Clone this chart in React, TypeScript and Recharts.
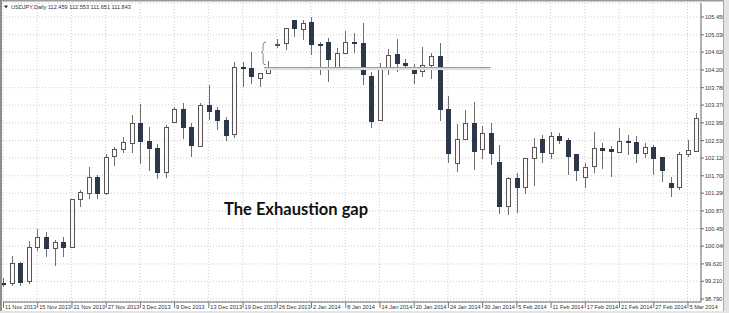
import { ComposedChart, Bar, XAxis, YAxis, CartesianGrid, ReferenceLine } from "recharts"

// USDJPY daily, 11 Nov 2013 - 6 Mar 2014
const dates = [
  "11 Nov 2013", "12 Nov 2013", "13 Nov 2013", "14 Nov 2013", "15 Nov 2013", "18 Nov 2013", "19 Nov 2013", "20 Nov 2013",
  "21 Nov 2013", "22 Nov 2013", "25 Nov 2013", "26 Nov 2013", "27 Nov 2013", "28 Nov 2013", "29 Nov 2013", "2 Dec 2013",
  "3 Dec 2013", "4 Dec 2013", "5 Dec 2013", "6 Dec 2013", "9 Dec 2013", "10 Dec 2013", "11 Dec 2013", "12 Dec 2013",
  "13 Dec 2013", "16 Dec 2013", "17 Dec 2013", "18 Dec 2013", "19 Dec 2013", "20 Dec 2013", "23 Dec 2013", "24 Dec 2013",
  "26 Dec 2013", "27 Dec 2013", "30 Dec 2013", "31 Dec 2013", "2 Jan 2014", "3 Jan 2014", "6 Jan 2014", "7 Jan 2014",
  "8 Jan 2014", "9 Jan 2014", "10 Jan 2014", "13 Jan 2014", "14 Jan 2014", "15 Jan 2014", "16 Jan 2014", "17 Jan 2014",
  "20 Jan 2014", "21 Jan 2014", "22 Jan 2014", "23 Jan 2014", "24 Jan 2014", "27 Jan 2014", "28 Jan 2014", "29 Jan 2014",
  "30 Jan 2014", "31 Jan 2014", "3 Feb 2014", "4 Feb 2014", "5 Feb 2014", "6 Feb 2014", "7 Feb 2014", "10 Feb 2014",
  "11 Feb 2014", "12 Feb 2014", "13 Feb 2014", "14 Feb 2014", "17 Feb 2014", "18 Feb 2014", "19 Feb 2014", "20 Feb 2014",
  "21 Feb 2014", "24 Feb 2014", "25 Feb 2014", "26 Feb 2014", "27 Feb 2014", "28 Feb 2014", "3 Mar 2014", "4 Mar 2014",
  "5 Mar 2014", "6 Mar 2014",
]

const opens = [
  99.18, 99.17, 99.64, 99.22, 100.02, 100.25, 100.0, 100.14, 100.02, 101.15, 101.29, 101.67, 101.29, 102.17, 102.33, 102.48,
  102.95, 102.52, 102.36, 101.79, 102.97, 103.28, 102.85, 102.4, 103.37, 103.25, 103.02, 102.69, 104.27, 104.25, 104.01, 104.13,
  104.81, 104.84, 105.38, 105.17, 105.33, 104.82, 104.86, 104.22, 104.6, 104.86, 104.84, 104.06, 103.02, 104.22, 104.58, 104.36,
  104.25, 104.18, 104.32, 104.53, 103.28, 102.0, 102.57, 102.95, 102.33, 102.71, 102.03, 100.99, 101.65, 101.44, 102.12, 102.57,
  102.24, 102.64, 102.55, 102.21, 101.67, 101.93, 102.36, 102.33, 102.26, 102.52, 102.5, 102.24, 102.38, 102.14, 101.53, 101.44,
  102.21, 102.29,
]
const highs = [
  99.29, 99.81, 99.66, 100.16, 100.44, 100.37, 100.18, 100.25, 101.16, 101.36, 101.91, 101.72, 102.21, 102.38, 102.62, 103.14,
  103.4, 102.85, 102.45, 102.9, 103.33, 103.42, 102.95, 103.42, 103.84, 103.32, 103.09, 104.39, 104.39, 104.62, 104.13, 104.41,
  104.93, 105.19, 105.38, 105.38, 105.45, 104.86, 104.95, 104.72, 105.12, 105.07, 105.31, 104.15, 104.36, 104.69, 104.93, 104.46,
  104.34, 104.74, 104.6, 104.84, 103.58, 102.92, 103.25, 103.44, 102.88, 102.95, 102.43, 101.67, 101.77, 102.12, 102.59, 102.66,
  102.73, 102.71, 102.59, 102.21, 102.0, 102.73, 102.47, 102.4, 102.83, 102.66, 102.64, 102.47, 102.43, 102.14, 101.67, 102.26,
  102.55, 103.18,
]
const lows = [
  99.07, 99.1, 99.1, 99.14, 99.92, 99.78, 99.57, 99.78, 100.01, 100.96, 101.15, 101.15, 101.25, 101.93, 102.24, 102.24,
  101.98, 101.81, 101.62, 101.65, 102.97, 102.57, 102.14, 102.4, 103.02, 102.78, 102.52, 102.59, 103.8, 103.87, 103.8, 104.13,
  104.72, 104.67, 104.98, 104.91, 104.55, 104.08, 103.91, 104.22, 104.6, 104.6, 103.84, 102.83, 103.02, 104.08, 104.15, 104.22,
  103.87, 104.03, 103.99, 103.0, 102.0, 101.79, 102.57, 101.84, 102.1, 101.95, 100.8, 100.77, 100.82, 101.27, 101.46, 102.0,
  102.1, 102.45, 101.72, 101.58, 101.41, 101.77, 101.86, 101.67, 102.26, 102.19, 102.0, 102.12, 101.72, 101.55, 101.2, 101.36,
  102.14, 102.29,
]
const closes = [
  99.16, 99.64, 99.19, 100.02, 100.25, 100.0, 100.14, 100.02, 101.15, 101.32, 101.67, 101.29, 102.14, 102.33, 102.5, 102.95,
  102.52, 102.36, 101.79, 102.85, 103.28, 102.85, 102.43, 103.37, 103.23, 103.02, 102.66, 104.27, 104.25, 104.06, 104.13, 104.27,
  104.82, 105.19, 105.19, 105.31, 104.81, 104.8, 104.46, 104.6, 104.86, 104.84, 104.1, 103.0, 104.22, 104.55, 104.36, 104.32,
  104.13, 104.32, 104.53, 103.28, 102.24, 102.57, 102.95, 102.29, 102.71, 102.24, 100.99, 101.65, 101.44, 102.12, 102.38, 102.26,
  102.64, 102.55, 102.17, 101.84, 101.91, 102.36, 102.31, 102.29, 102.52, 102.5, 102.24, 102.38, 102.12, 101.84, 101.44, 102.21,
  102.31, 103.06,
]

const priceTicks = [
  98.79, 99.21, 99.62, 100.04, 100.45, 100.87, 101.29, 101.7, 102.12, 102.53, 102.95, 103.37, 103.78, 104.2, 104.62, 105.03, 105.45,
]
const dateTicks = [0, 4, 8, 12, 16, 20, 24, 28, 32, 36, 40, 44, 48, 52, 56, 60, 64, 68, 72, 76, 80]

const header = "USDJPY,Daily  112.459 112.553 111.651 111.843"
const annotation = "The Exhaustion gap"
const gapLevel = 104.27
const gapTop = 104.86
const gapFrom = 30.5
const gapTo = 57

const rows = dates.map((date, i) => ({
  i,
  date,
  open: opens[i],
  high: highs[i],
  low: lows[i],
  close: closes[i],
}))

const BEAR = "#2c3849"
const WICK = "#6e6e6e"
const small = { fontFamily: "Liberation Sans, Arial, sans-serif", fontSize: 5.6, fill: "#333" }

function Candle(props: any) {
  const { x, y, width, height, payload } = props
  if (x == null || !payload) return null
  const top = Math.min(y, y + height)
  const bottom = Math.max(y, y + height)
  const { open, high, low, close } = payload
  const span = high - low || 1
  const py = (v: number) => bottom - ((v - low) / span) * (bottom - top)
  const c = Math.round(x + width / 2)
  const up = close >= open
  const bt = Math.round(py(Math.max(open, close))) + 0.5
  let bb = Math.round(py(Math.min(open, close))) + 0.5
  if (bb - bt < 1) bb = bt + 1
  return (
    <g>
      <line x1={c + 0.5} x2={c + 0.5} y1={Math.round(top)} y2={Math.round(bottom)} stroke={WICK} strokeWidth={1} />
      <rect
        x={c - 1.5}
        y={bt}
        width={4}
        height={bb - bt}
        fill={up ? "#fdf7f7" : BEAR}
        stroke={up ? "#565656" : BEAR}
        strokeWidth={1}
      />
    </g>
  )
}

function DateTick(props: any) {
  const { x, y, payload } = props
  return (
    <g>
      <line x1={x + 0.5} x2={x + 0.5} y1={y} y2={y + 6} stroke="#777" />
      <text x={x + 2} y={y + 6.5} {...small}>
        {dates[payload.value]}
      </text>
    </g>
  )
}

function GapLine(props: any) {
  const { x1, x2, y1 } = props
  const yy = Math.round(y1) + 0.5
  return (
    <g>
      <line x1={x1} x2={x2} y1={yy + 1.5} y2={yy + 1.5} stroke="#dedede" strokeWidth={2} />
      <line x1={x1} x2={x2} y1={yy} y2={yy} stroke="#9c9c9c" strokeWidth={1.2} />
    </g>
  )
}

function Brace(props: any) {
  const { x1, y1, y2 } = props
  const t = Math.min(y1, y2)
  const b = Math.max(y1, y2)
  const m = (t + b) / 2 - 1
  const x = x1
  const d = `M ${x + 3} ${t} Q ${x} ${t} ${x} ${t + 3} L ${x} ${m - 2} Q ${x} ${m} ${x - 2} ${m} Q ${x} ${m} ${x} ${m + 2} L ${x} ${b - 2} Q ${x} ${b} ${x + 3} ${b}`
  return <path d={d} fill="none" stroke="#8a8a8a" strokeWidth={1} />
}

export default function App() {
  return (
    <div style={{ position: "relative", width: 729, height: 313, background: "#fff", overflow: "hidden" }}>
      <style>{`body{margin:0}`}</style>
      <ComposedChart width={729} height={313} data={rows} margin={{ top: 3, right: 0, bottom: 0, left: 3 }}>
        <CartesianGrid stroke="#cdcdcd" strokeDasharray="1 2" />
        <XAxis
          dataKey="i"
          type="number"
          domain={[0, 81.58]}
          ticks={dateTicks}
          interval={0}
          height={11}
          tickSize={0}
          tickMargin={0}
          tickLine={false}
          axisLine={{ stroke: "#6a6a6a" }}
          tick={<DateTick />}
        />
        <YAxis
          orientation="right"
          domain={[98.72, 105.78]}
          ticks={priceTicks}
          interval={0}
          width={28}
          tickSize={3}
          tickMargin={1}
          axisLine={{ stroke: "#6a6a6a" }}
          tickLine={{ stroke: "#6a6a6a" }}
          tick={small}
          tickFormatter={(v: number) => v.toFixed(3)}
        />
        <Bar dataKey={(d: any) => [d.low, d.high]} barSize={5} shape={<Candle />} isAnimationActive={false} />
        <ReferenceLine
          segment={[
            { x: gapFrom, y: gapLevel },
            { x: gapTo, y: gapLevel },
          ]}
          shape={(p: any) => <GapLine {...p} />}
        />
        <ReferenceLine
          segment={[
            { x: gapFrom - 0.1, y: gapTop },
            { x: gapFrom - 0.1, y: gapLevel + 0.05 },
          ]}
          shape={(p: any) => <Brace {...p} />}
        />
      </ComposedChart>
      <svg width={729} height={313} style={{ position: "absolute", left: 0, top: 0, pointerEvents: "none" }}>
        <path d="M 4 5.5 L 8 5.5 L 6 8.5 Z" fill="#333" />
        <text x={11} y={9} {...small}>
          {header}
        </text>
        <text x={224} y={215} fontFamily="Lato, sans-serif" fontWeight={700} fontSize={16.5} fill="#111">
          {annotation}
        </text>
        <rect x={0} y={0} width={729} height={1.5} fill="#9a9a9a" />
        <rect x={0} y={0} width={2} height={313} fill="#8e8e8e" />
        <rect x={723} y={0} width={6} height={313} fill="#e3e3e3" />
        <rect x={723} y={0} width={1} height={313} fill="#a8a8a8" />
        <rect x={0} y={311} width={729} height={2} fill="#e3e3e3" />
      </svg>
    </div>
  )
}
